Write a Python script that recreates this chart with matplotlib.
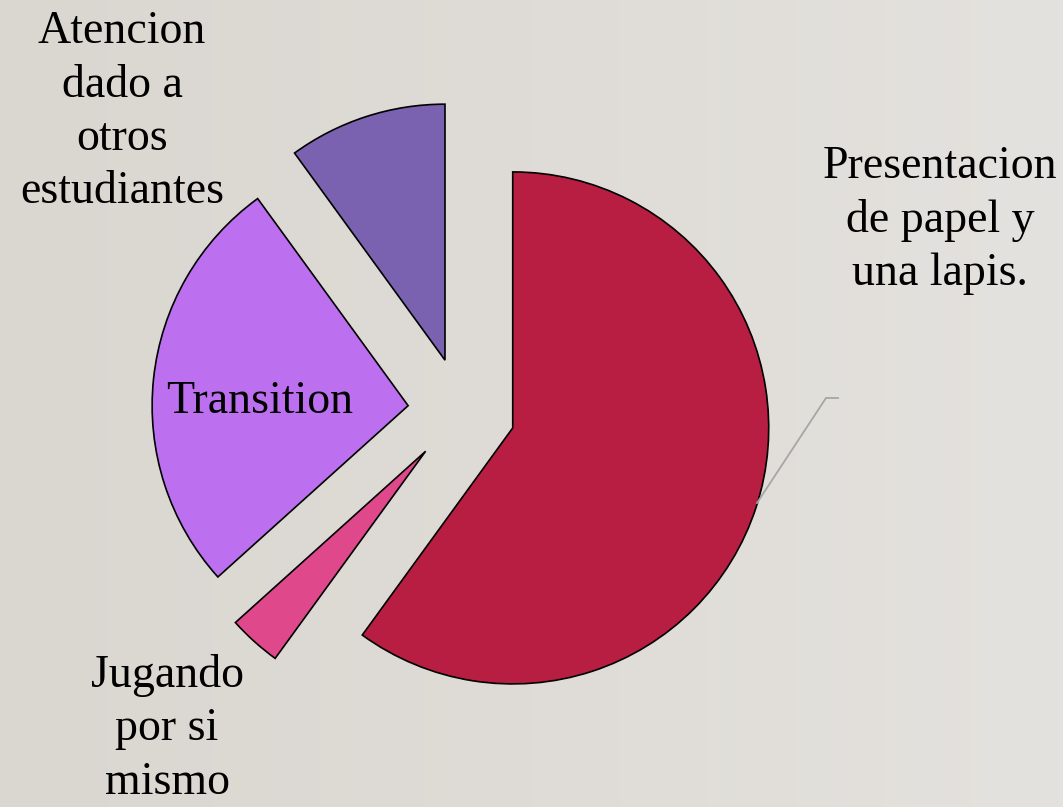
import matplotlib
matplotlib.use("Agg")
import matplotlib.pyplot as plt
import numpy as np
from matplotlib.colors import LinearSegmentedColormap

# ---- data ----
categories = ["Presentacion\nde papel y\nuna lapis.",
              "Jugando\npor si\nmismo",
              "Transition",
              "Atencion\ndado a\notros\nestudiantes"]
values = [18, 1, 8, 3]
colors = ["#B81E42", "#E0488C", "#BC70F0", "#7A62B0"]

W, H = 1063, 807
fig = plt.figure(figsize=(W / 100, H / 100), dpi=100)

# background gradient
bg = fig.add_axes([0, 0, 1, 1])
cmap = LinearSegmentedColormap.from_list("bg", ["#dad7d1", "#dfdcd7", "#e4e2de"])
grad = np.linspace(0, 1, 256).reshape(1, -1)
bg.imshow(grad, aspect="auto", cmap=cmap, extent=[0, 1, 0, 1])
bg.axis("off")

# pie axes: pie centre at pixel (461.6, 411.3), radius 256 px
cx, cy, R = 461.6, 411.3, 256.0
ax = fig.add_axes([0, 0, 1, 1])
ax.patch.set_alpha(0)
wedges, _ = ax.pie(values, colors=colors, startangle=90, counterclock=False,
                   explode=[0.21] * len(values), radius=1.0,
                   wedgeprops=dict(edgecolor="black", linewidth=1.2))
ax.set_xlim(-cx / R, (W - cx) / R)
ax.set_ylim(-(H - cy) / R, cy / R)
ax.set_aspect("equal")
ax.axis("off")

def px(x, y):
    return ((x - cx) / R, (cy - y) / R)

font = dict(family="Liberation Serif", fontsize=33, color="black",
            ha="center", va="center", linespacing=1.33)

ax.text(*px(122, 112), categories[3], **font)
ax.text(*px(260, 402), categories[2], **font)
ax.text(*px(167, 729), categories[1], **font)
ax.text(*px(940, 220), categories[0], **font)

# leader line for Presentacion label
lx, ly = zip(px(757, 503), px(826, 398), px(838, 398))
ax.plot(lx, ly, color="#a6a6a6", lw=1.3, solid_joinstyle="miter")

fig.savefig("out.png", dpi=100)
